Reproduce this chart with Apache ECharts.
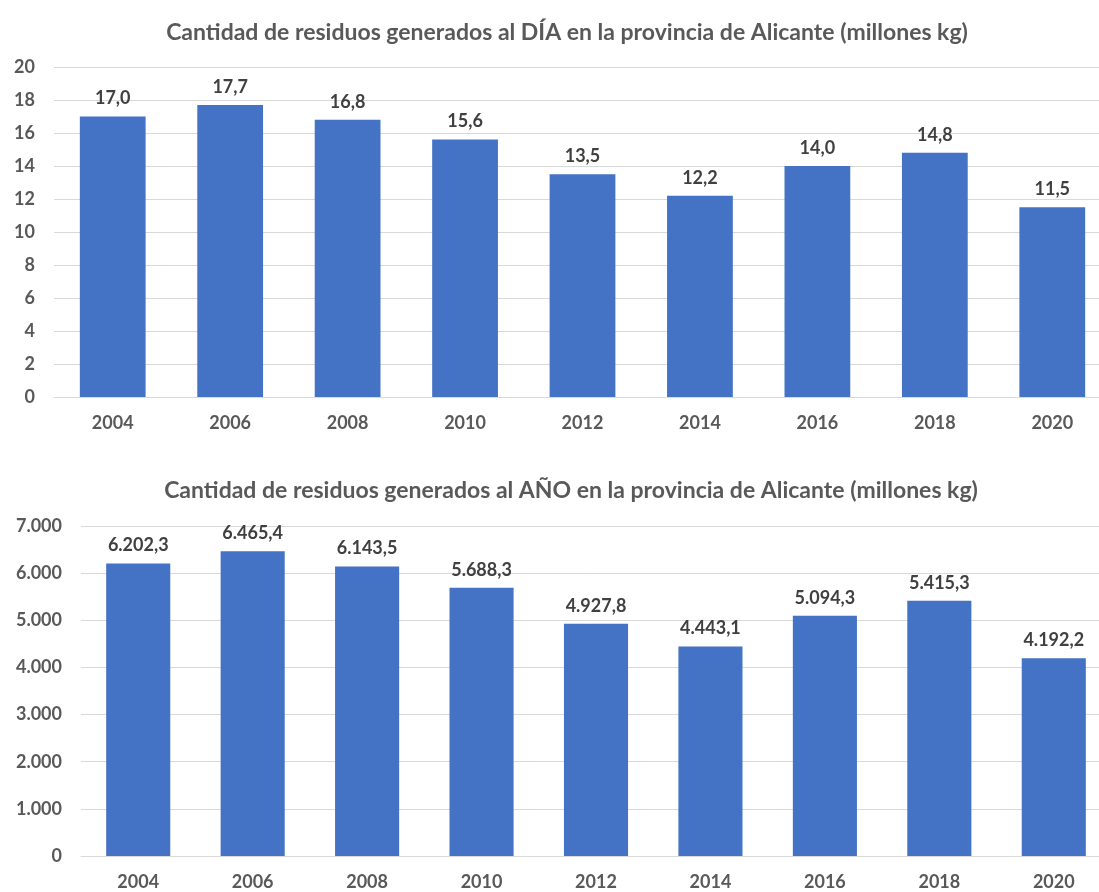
<!DOCTYPE html>
<html>
<head>
<meta charset="utf-8">
<script src="https://cdn.jsdelivr.net/npm/echarts@6/dist/echarts.min.js"></script>
<style>
  html, body { margin: 0; padding: 0; background: #fff; }
  #chart { width: 1099px; height: 892px; }
</style>
</head>
<body>
<div id="chart"></div>
<script>
const years = ['2004', '2006', '2008', '2010', '2012', '2014', '2016', '2018', '2020'];
const perDay = [17.0, 17.7, 16.8, 15.6, 13.5, 12.2, 14.0, 14.8, 11.5];
const perYear = [6202.3, 6465.4, 6143.5, 5688.3, 4927.8, 4443.1, 5094.3, 5415.3, 4192.2];

const titleDay = 'Cantidad de residuos generados al DÍA en la provincia de Alicante (millones kg)';
const titleYear = 'Cantidad de residuos generados al AÑO en la provincia de Alicante (millones kg)';

const font = 'Lato, "Open Sans", sans-serif';
const barColor = '#4472C4';
const axisText = '#595959';
const gridColor = '#D9D9D9';

// formato español: coma decimal, punto de miles
const fmtNum = (v, dec) => {
  const parts = v.toFixed(dec).split('.');
  parts[0] = parts[0].replace(/\B(?=(\d{3})+(?!\d))/g, '.');
  return parts.join(',');
};

const xAxisBase = (gridIndex) => ({
  type: 'category',
  gridIndex,
  data: years,
  axisTick: { show: false },
  axisLine: { show: true, lineStyle: { color: gridColor } },
  axisLabel: { color: axisText, fontFamily: font, fontWeight: 'bold', fontSize: 18, margin: 17 },
});

const yAxisBase = (gridIndex, max, interval, fmt) => ({
  type: 'value',
  gridIndex,
  min: 0,
  max,
  interval,
  axisLine: { show: false },
  axisTick: { show: false },
  axisLabel: { color: axisText, fontFamily: font, fontWeight: 'bold', fontSize: 18, margin: 19, formatter: fmt },
  splitLine: { lineStyle: { color: gridColor, width: 1 } },
});

const barSeries = (idx, data, dec) => ({
  type: 'bar',
  xAxisIndex: idx,
  yAxisIndex: idx,
  data,
  barCategoryGap: '44%',
  itemStyle: { color: barColor },
  label: {
    show: true,
    position: 'top',
    distance: 9,
    color: '#404040',
    fontFamily: font,
    fontWeight: 'bold',
    fontSize: 18,
    formatter: p => fmtNum(p.value, dec),
  },
});

const chart = echarts.init(document.getElementById('chart'));
chart.setOption({
  animation: false,
  title: [
    { text: titleDay, left: 562, top: 16, textAlign: 'center',
      textStyle: { color: axisText, fontFamily: font, fontWeight: 'bold', fontSize: 23 } },
    { text: titleYear, left: 566, top: 474, textAlign: 'center',
      textStyle: { color: axisText, fontFamily: font, fontWeight: 'bold', fontSize: 23 } },
  ],
  grid: [
    { left: 54, top: 67, width: 1057, height: 330, outerBoundsMode: 'none' },
    { left: 81, top: 526, width: 1030, height: 330, outerBoundsMode: 'none' },
  ],
  xAxis: [xAxisBase(0), xAxisBase(1)],
  yAxis: [
    yAxisBase(0, 20, 2, v => String(v)),
    yAxisBase(1, 7000, 1000, v => fmtNum(v, 0)),
  ],
  series: [barSeries(0, perDay, 1), barSeries(1, perYear, 1)],
});
</script>
</body>
</html>
